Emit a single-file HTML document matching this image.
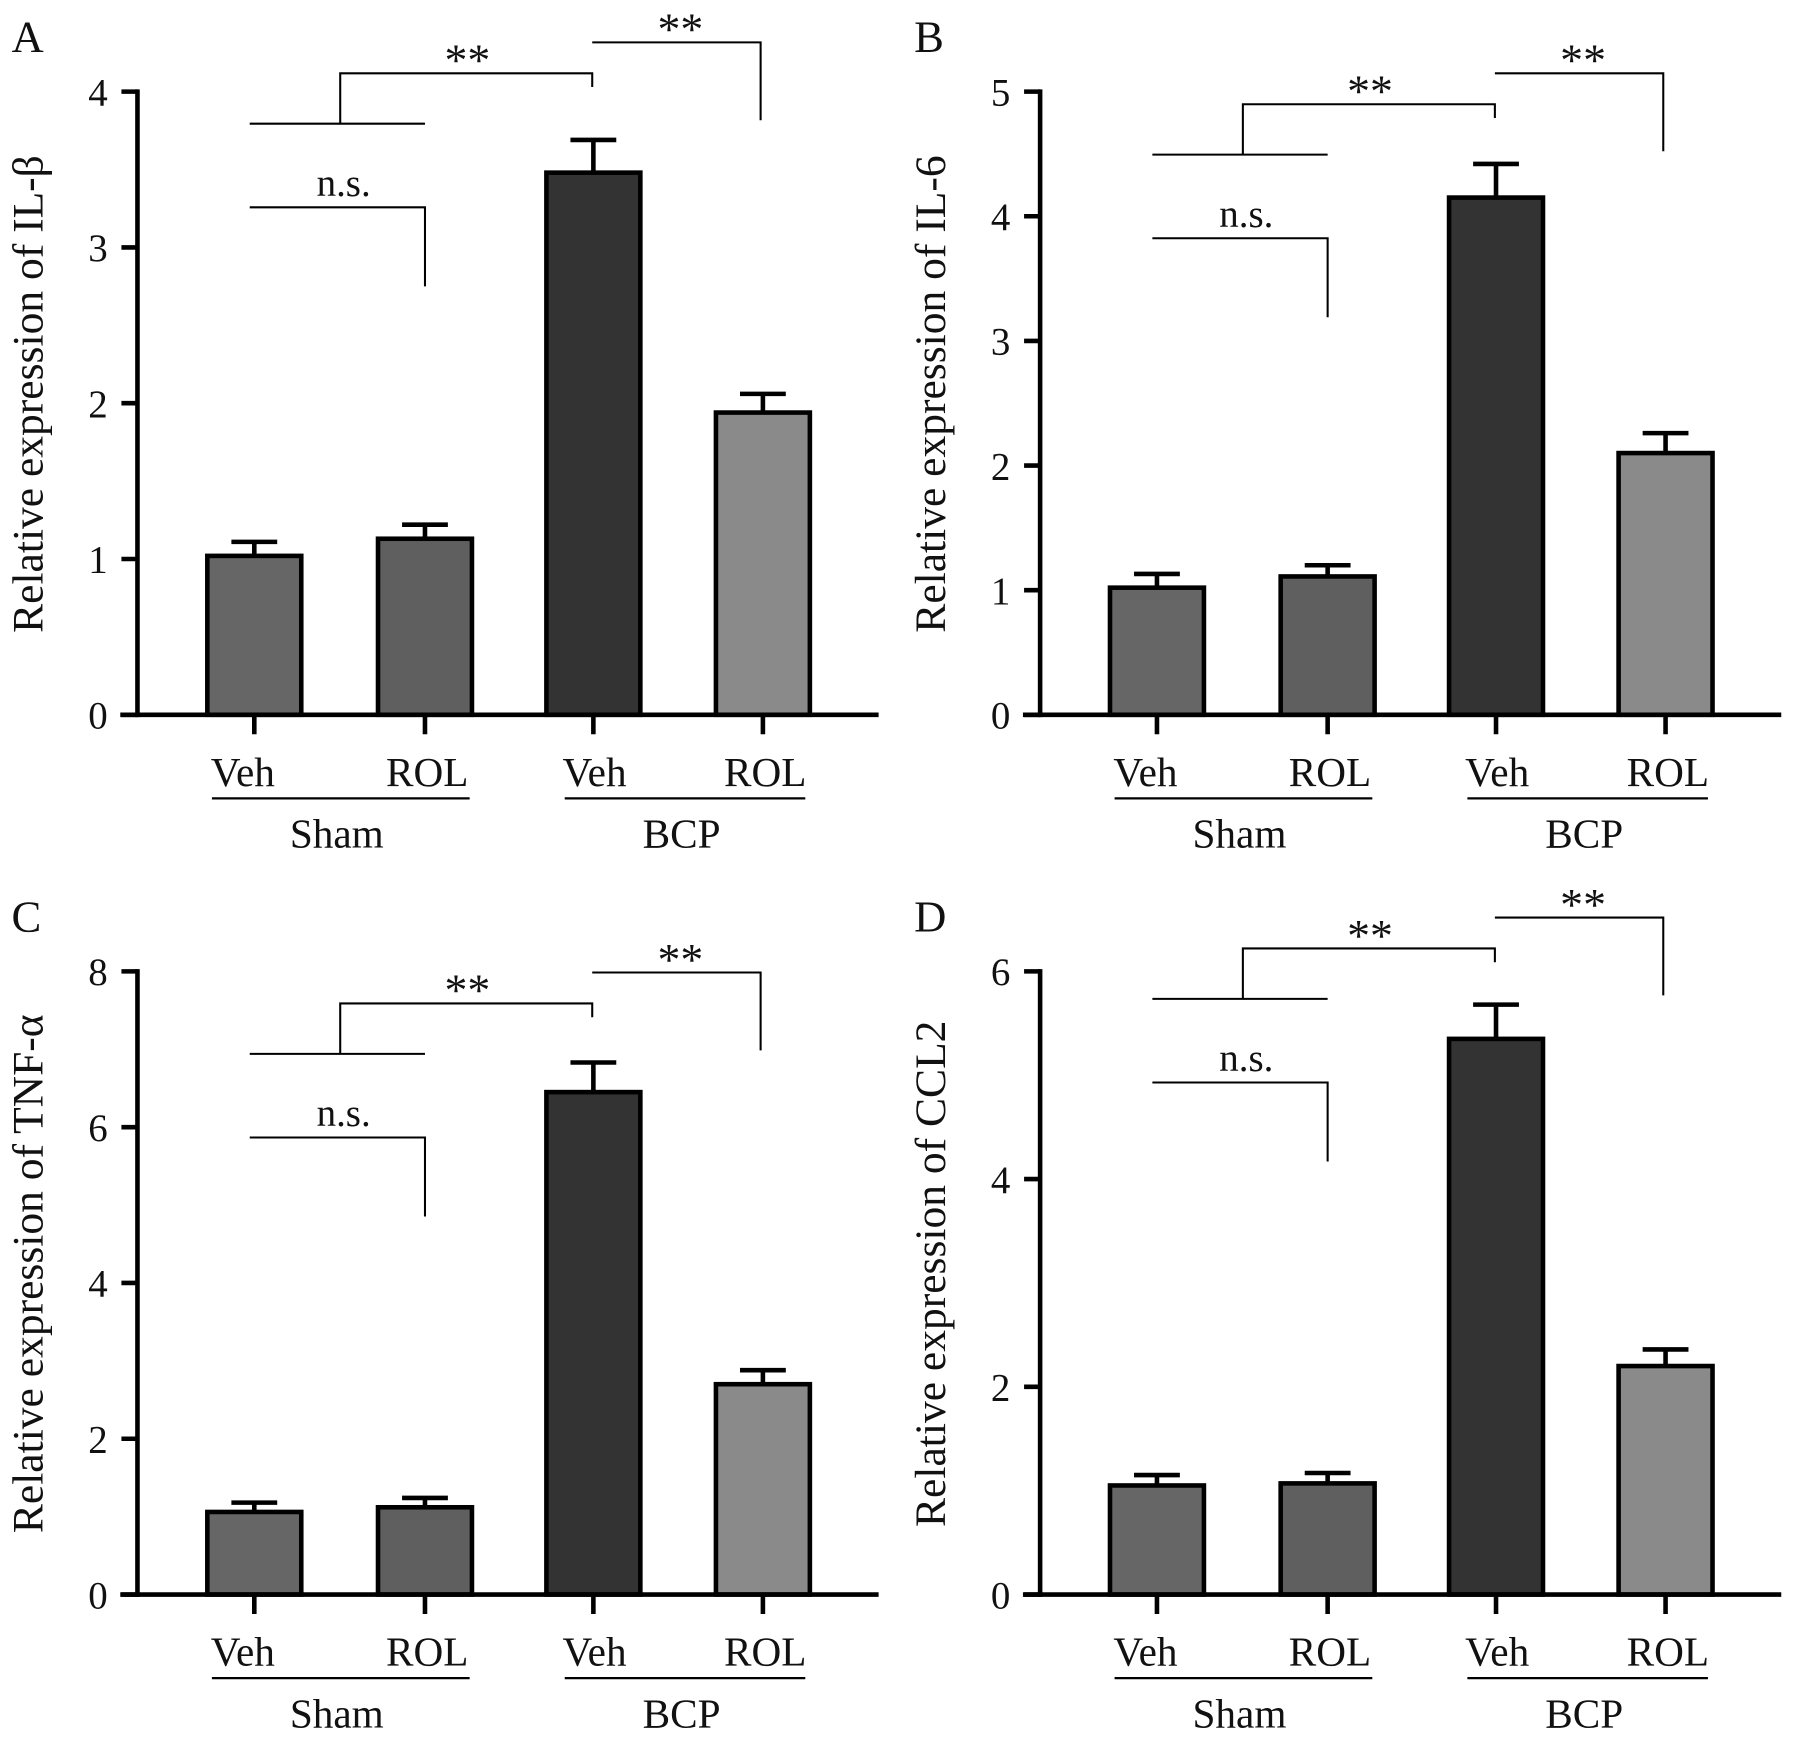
<!DOCTYPE html>
<html><head><meta charset="utf-8"><style>
html,body{margin:0;padding:0;background:#fff}
svg{display:block}
text{font-family:"Liberation Serif",serif;fill:#111}
</style></head><body>
<svg id="fig" width="1795" height="1740" viewBox="0 0 1567 1519" preserveAspectRatio="none" xmlns="http://www.w3.org/2000/svg"></svg>
<script>
const categories = ["Veh","ROL","Veh","ROL"];
const groups = ["Sham","BCP"];
const titlesArr = ["IL-β","IL-6","TNF-α","CCL2"];
const lettersArr = ["A","B","C","D"];
const valuesA = [1.02,1.13,3.48,1.94];
const errorsA = [0.09,0.09,0.21,0.12];
const valuesB = [1.02,1.11,4.15,2.10];
const errorsB = [0.11,0.09,0.27,0.16];
const valuesC = [1.06,1.12,6.45,2.70];
const errorsC = [0.12,0.12,0.38,0.18];
const valuesD = [1.05,1.07,5.35,2.20];
const errorsD = [0.10,0.10,0.33,0.16];
const ticksA = [0,1,2,3,4];
const ticksB = [0,1,2,3,4,5];
const ticksC = [0,2,4,6,8];
const ticksD = [0,2,4,6];
const colors = ["#666666","#5f5f5f","#333333","#8a8a8a"];

const NS="http://www.w3.org/2000/svg";
const svg=document.getElementById('fig');
function mk(tag,attrs,parent){const e=document.createElementNS(NS,tag);for(const k in attrs)e.setAttribute(k,attrs[k]);(parent||svg).appendChild(e);return e;}

const panels=[
 {dx:0,dy:0,vals:valuesA,errs:errorsA,ticks:ticksA,ns:181},
 {dx:788,dy:0,vals:valuesB,errs:errorsB,ticks:ticksB,ns:208},
 {dx:0,dy:768,vals:valuesC,errs:errorsC,ticks:ticksC,ns:225},
 {dx:788,dy:768,vals:valuesD,errs:errorsD,ticks:ticksD,ns:177}
];
const labOff=[-10,2,1,2];
panels.forEach((p,pi)=>{
 const g=mk('g',{transform:`translate(${p.dx},${p.dy})`});
 
 
 const y0=624,yTop=80,ax=120;
 const maxV=p.ticks[p.ticks.length-1];
 const yS=v=>y0-(v/maxV)*(y0-yTop);
 const cx=[222,371,518,666];
 const xS=i=>cx[i];
 const bw=82;
 const L=mk('text',{x:10,y:45,'font-size':39},g);L.textContent=lettersArr[pi];
 
 
 const yt=mk('text',{x:0,y:0,'font-size':38,'text-anchor':'middle',transform:`translate(37,${(y0+yTop)/2-8}) rotate(-90)`},g);
 yt.textContent='Relative expression of '+titlesArr[pi];
 
 
 p.vals.forEach((v,i)=>{
  const x=xS(i),yv=yS(v),ye=yS(v+p.errs[i]);
  const eb=mk('path',{d:`M${x} ${yv}V${ye}M${x-20} ${ye}H${x+20}`,stroke:'#000','stroke-width':4,fill:'none'},g);
  
  
  const r=mk('rect',{x:x-bw/2,y:yv,width:bw,height:y0-yv,fill:colors[i],stroke:'#000','stroke-width':4},g);
  
  
  const tk=mk('line',{x1:x,y1:y0,x2:x,y2:641,stroke:'#000','stroke-width':4},g);
  
  
  const lb=mk('text',{x:x+labOff[i],y:686,'font-size':36,'text-anchor':'middle'},g);lb.textContent=categories[i];
  
  
 });
 const ya=mk('line',{x1:ax,y1:yTop-2,x2:ax,y2:y0+2,stroke:'#000','stroke-width':4},g);
 
 
 const xa=mk('line',{x1:105,y1:y0,x2:767,y2:y0,stroke:'#000','stroke-width':4},g);
 
 
 p.ticks.forEach(t=>{
  const y=yS(t);
  const tl=mk('line',{x1:106,y1:y,x2:ax,y2:y,stroke:'#000','stroke-width':4},g);
  
  
  const tt=mk('text',{x:94,y:y+12,'font-size':34,'text-anchor':'end'},g);tt.textContent=t;
  
  
 });
 [[185,410,294],[493,703,595]].forEach((s,k)=>{
  const gl=mk('line',{x1:s[0],y1:697,x2:s[1],y2:697,stroke:'#000','stroke-width':2},g);
  
  
  const gt=mk('text',{x:s[2],y:740,'font-size':36,'text-anchor':'middle'},g);gt.textContent=groups[k];
  
  
 });
 const n=p.ns;
 const br=mk('path',{d:`M218 ${n}H371V${n+69} M218 ${n-73}H371 M297 ${n-73}V${n-117}H517V${n-105} M517 ${n-144}H664V${n-76}`,stroke:'#000','stroke-width':1.8,fill:'none'},g);
 
 
 const t1=mk('text',{x:300,y:n-10,'font-size':34,'text-anchor':'middle'},g);t1.textContent='n.s.';
 
 
 const t2=mk('text',{x:408,y:n-115,'font-size':40,'text-anchor':'middle'},g);t2.textContent='**';
 
 
 const t3=mk('text',{x:594,y:n-142,'font-size':40,'text-anchor':'middle'},g);t3.textContent='**';
 
 
});
</script>
</body></html>
